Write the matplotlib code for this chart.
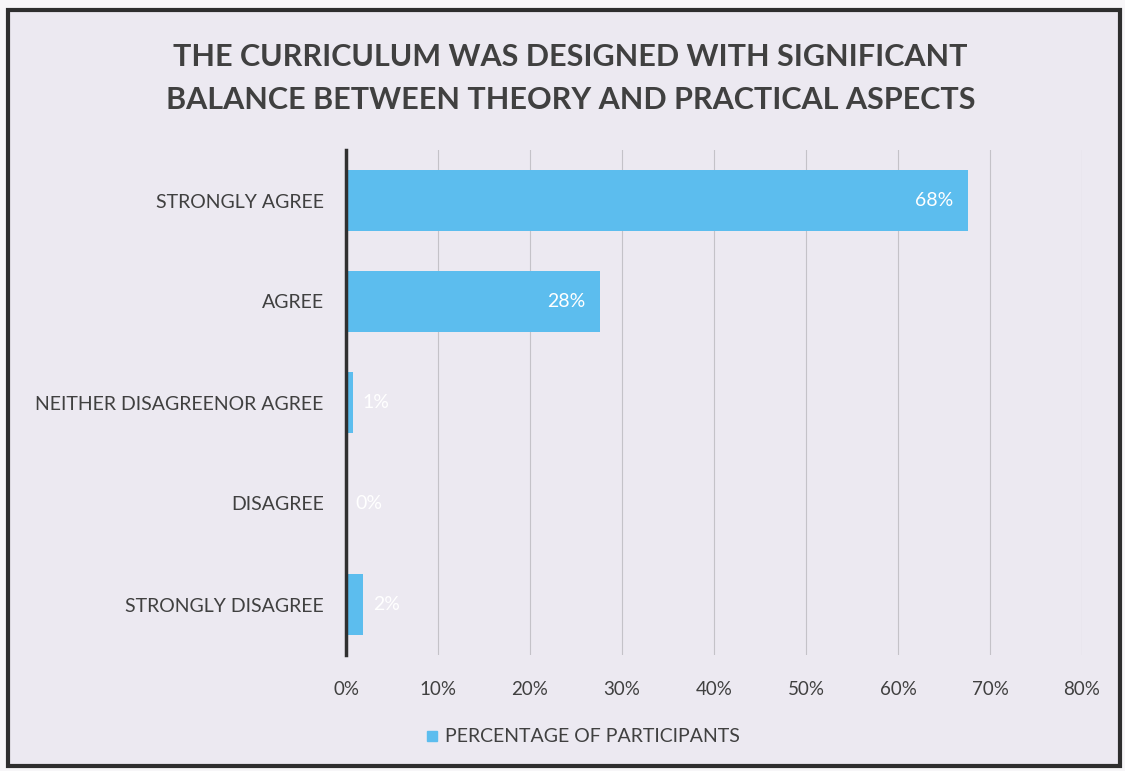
import matplotlib
matplotlib.use('Agg')
import matplotlib.pyplot as plt
from matplotlib.patches import Rectangle
from matplotlib.lines import Line2D
from matplotlib.ticker import FuncFormatter

# survey responses
categories = ['STRONGLY AGREE', 'AGREE', 'NEITHER DISAGREENOR AGREE', 'DISAGREE', 'STRONGLY DISAGREE']
percentages = [67.6, 27.6, 0.8, 0.0, 1.9]
value_labels = ['68%', '28%', '1%', '0%', '2%']
x_ticks = [0, 10, 20, 30, 40, 50, 60, 70, 80]

plt.rcParams['font.family'] = ['Lato', 'DejaVu Sans']

bg_color = '#ece9f1'
bar_color = '#5cbdee'
text_color = '#404040'

fig = plt.figure(figsize=(11.25, 7.71), dpi=100)
fig.patch.set_facecolor('#f7f6f8')

# framed chart area (drawn behind the axes)
frame = Rectangle((8 / 1125, 5 / 771), 1112 / 1125, 756 / 771, transform=fig.transFigure,
                  facecolor=bg_color, edgecolor='#2e2e2e', linewidth=3, zorder=-1)
fig.patches.append(frame)

ax = fig.add_axes([346 / 1125, 1 - 655 / 771, 736 / 1125, 505 / 771])
ax.set_facecolor('none')

y_pos = list(range(len(categories)))
bars = ax.barh(y_pos, percentages, height=0.6, color=bar_color, zorder=3)
ax.set_ylim(len(categories) - 0.5, -0.5)
ax.set_xlim(0, 80)

ax.set_yticks(y_pos)
ax.set_yticklabels(categories, fontsize=14, color=text_color)
ax.set_xticks(x_ticks)
ax.xaxis.set_major_formatter(FuncFormatter(lambda v, p: f'{int(v)}%'))
ax.tick_params(axis='x', labelsize=13.5, colors=text_color, length=0, pad=19)
ax.tick_params(axis='y', length=0, pad=16)

ax.grid(axis='x', color='#c4c2c8', linewidth=0.8, zorder=0)
ax.set_axisbelow(True)
for side in ['top', 'right', 'bottom']:
    ax.spines[side].set_visible(False)
ax.spines['left'].set_color('#303030')
ax.spines['left'].set_linewidth(2.5)
ax.spines['left'].set_zorder(4)

# data labels inside bar ends
for bar, lbl, val in zip(bars, value_labels, percentages):
    x_txt = val - 1.6 if val > 5 else val + 1.0
    ha = 'right' if val > 5 else 'left'
    ax.text(x_txt, bar.get_y() + bar.get_height() / 2, lbl, ha=ha, va='center',
            color='white', fontsize=14, zorder=5)

fig.text(0.507, 1 - 78.5 / 771,
         'THE CURRICULUM WAS DESIGNED WITH SIGNIFICANT\nBALANCE BETWEEN THEORY AND PRACTICAL ASPECTS',
         ha='center', va='center', fontsize=22, fontweight='bold', color=text_color,
         linespacing=1.68)

handle = Line2D([], [], marker='s', linestyle='none', markersize=7, color=bar_color)
fig.legend([handle], ['PERCENTAGE OF PARTICIPANTS'], loc='center',
           bbox_to_anchor=(580 / 1125, 1 - 737 / 771), frameon=False,
           fontsize=14, labelcolor=text_color, handletextpad=0.1, handlelength=1.2)

fig.savefig('out.png', dpi=100, facecolor=fig.get_facecolor())
